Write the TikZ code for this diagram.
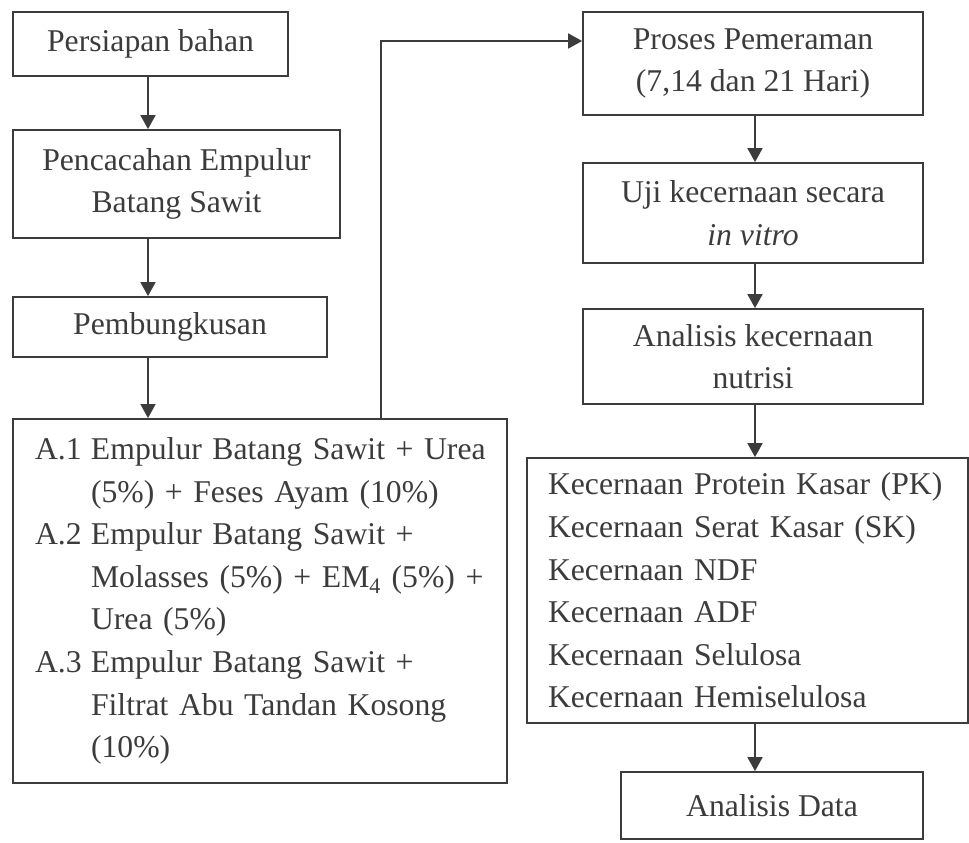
\documentclass[tikz,border=0pt]{standalone}
\usepackage{fontspec}
\setmainfont{Liberation Serif}
\usetikzlibrary{arrows.meta,calc}
\definecolor{ink}{HTML}{3C3C3C}
\newcommand\boxfont{\fontsize{31.7}{42.6}\selectfont}
\begin{document}
\begin{tikzpicture}[x=1pt,y=-1pt,
  box/.style={draw=ink, line width=1.8pt, inner sep=0pt, text=ink, font=\boxfont, align=center},
  listbox/.style={box, align=left},
  arr/.style={draw=ink, line width=1.8pt, -{Triangle[length=14pt,width=15pt]}}]
\fill[white] (0,0) rectangle (969,843);
\useasboundingbox (0,0) rectangle (969,843);
% left column
\node[box, minimum width=275pt, minimum height=64pt] (b1) at (150.5,44) {Persiapan bahan};
\node[box, minimum width=327pt, minimum height=108pt] (b2) at (176.5,184) {Pencacahan Empulur\\Batang Sawit};
\node[box, minimum width=314pt, minimum height=60pt] (b3) at (170,327) {Pembungkusan};
\node[listbox, inner xsep=22pt, text width=450pt, minimum height=364pt] (b4) at (260,601)
 {\mbox{\makebox[56pt][l]{A.1}Empulur Batang Sawit + Urea}\\
  \mbox{\hspace*{56pt}(5\%) + Feses Ayam (10\%)}\\
  \mbox{\makebox[56pt][l]{A.2}Empulur Batang Sawit +}\\
  \mbox{\hspace*{56pt}Molasses (5\%) + EM\textsubscript{4} (5\%) +}\\
  \mbox{\hspace*{56pt}Urea (5\%)}\\
  \mbox{\makebox[56pt][l]{A.3}Empulur Batang Sawit +}\\
  \mbox{\hspace*{56pt}Filtrat Abu Tandan Kosong}\\
  \mbox{\hspace*{56pt}(10\%)}};
% right column
\node[box, minimum width=340pt, minimum height=103pt] (p1) at (753,63.5) {Proses Pemeraman\\(7,14 dan 21 Hari)};
\node[box, minimum width=340pt, minimum height=100pt] (p2) at (753,213) {Uji kecernaan secara\\\textit{in vitro}};
\node[box, minimum width=340pt, minimum height=95pt] (p3) at (753,356.5) {Analisis kecernaan\\nutrisi};
\node[listbox, inner xsep=21pt, text width=399pt, minimum height=265pt] (p4) at (747.5,590.5)
 {\mbox{Kecernaan Protein Kasar (PK)}\\
  \mbox{Kecernaan Serat Kasar (SK)}\\
  \mbox{Kecernaan NDF}\\
  \mbox{Kecernaan ADF}\\
  \mbox{Kecernaan Selulosa}\\
  \mbox{Kecernaan Hemiselulosa}};
\node[box, minimum width=302pt, minimum height=67pt] (p5) at (772,805.5) {Analisis Data};
% connectors
\coordinate (ax) at (148,0);
\coordinate (rx) at (755,0);
\coordinate (lx) at (381,41);
\draw[arr] (b1.south -| ax) -- (b2.north -| ax);
\draw[arr] (b2.south -| ax) -- (b3.north -| ax);
\draw[arr] (b3.south -| ax) -- (b4.north -| ax);
\draw[arr] (b4.north -| lx) |- (p1.west |- lx);
\draw[arr] (p1.south -| rx) -- (p2.north -| rx);
\draw[arr] (p2.south -| rx) -- (p3.north -| rx);
\draw[arr] (p3.south -| rx) -- (p4.north -| rx);
\draw[arr] (p4.south -| rx) -- (p5.north -| rx);
\end{tikzpicture}
\end{document}
